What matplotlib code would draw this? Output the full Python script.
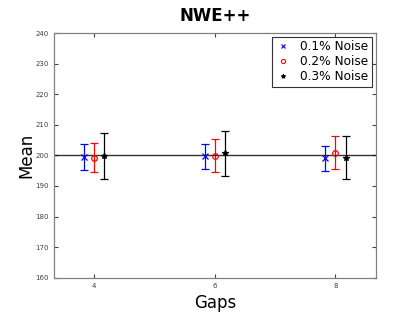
import numpy as np
import matplotlib
matplotlib.use('Agg')
import matplotlib.pyplot as plt
from matplotlib.lines import Line2D

# Data
gaps = [4, 6, 8]
labels = ['0.1% Noise', '0.2% Noise', '0.3% Noise']
means_01 = [199.4, 199.7, 199.0]
errs_01 = [4.3, 4.0, 4.0]
means_02 = [199.3, 199.8, 200.9]
errs_02 = [4.9, 5.4, 5.4]
means_03 = [199.8, 200.7, 199.3]
errs_03 = [7.5, 7.3, 7.0]
offsets = [-0.17, 0.0, 0.17]
true_value = 200

fig = plt.figure(figsize=(4.15, 3.12), dpi=100)
ax = fig.add_axes([0.13, 0.11, 0.775, 0.784])

series = [(means_01, errs_01, 'b', 'x', 'none'),
          (means_02, errs_02, 'r', 'o', 'none'),
          (means_03, errs_03, 'k', '*', 'k')]

handles = []
for (m, e, c, mk, fc), lab, off in zip(series, labels, offsets):
    x = np.array(gaps) + off
    ax.errorbar(x, m, yerr=e, fmt=mk, color=c, mfc=fc, ms=4, capsize=3,
                elinewidth=0.9, capthick=0.9, mew=0.9)
    handles.append(Line2D([], [], ls='none', marker=mk, color=c, mfc=fc,
                          ms=3, mew=0.8, label=lab))

ax.axhline(true_value, color='k', lw=1.0, alpha=0.8)

ax.set_xlim(4 - 2/3, 8 + 2/3)
ax.set_ylim(160, 240)
ax.set_xticks(gaps)
ax.set_yticks(np.arange(160, 241, 10))
ax.tick_params(direction='in', labelsize=5, length=3, width=0.8,
               top=True, right=True, colors='#404040')
for s in ax.spines.values():
    s.set_color('#808080')
    s.set_linewidth(0.9)

ax.set_xlabel('Gaps', fontsize=12, labelpad=4)
ax.set_ylabel('Mean', fontsize=12, labelpad=0)
ax.set_title('NWE++', fontsize=12, fontweight='bold', pad=9)

leg = ax.legend(handles=handles, loc='upper right', fontsize=8.7,
                frameon=True, fancybox=False, edgecolor='k',
                handlelength=1.2, handletextpad=0.8, borderaxespad=0.3,
                labelspacing=0.15, borderpad=0.3)
leg.get_frame().set_linewidth(0.8)

plt.savefig('out.png', dpi=100)
